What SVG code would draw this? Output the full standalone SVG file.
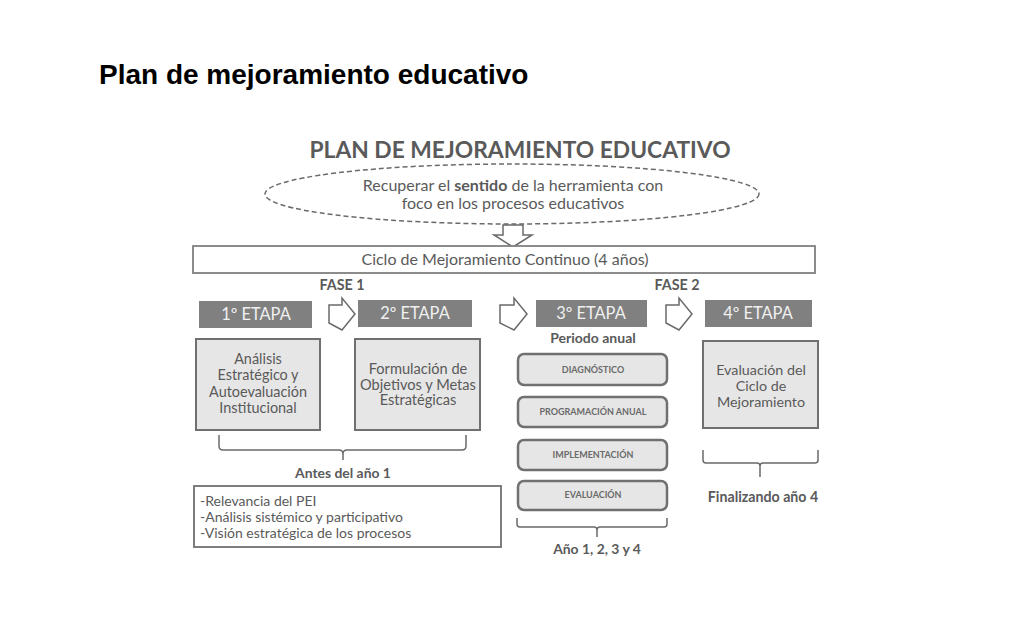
<svg xmlns="http://www.w3.org/2000/svg" width="1024" height="640" viewBox="0 0 1024 640">
<style>
.t{font-family:Lato,"Open Sans",sans-serif;fill:#5a5a5a}
.b{font-weight:bold}
.etapa rect{fill:#808080}
.etapa text{font-family:Lato,"Open Sans",sans-serif;fill:#f0f0f0;font-size:16.4px;text-anchor:middle}
.box{fill:#e6e6e6;stroke:#707070;stroke-width:2}
.rbox{fill:#e6e6e6;stroke:#707070;stroke-width:2.5}
.small{font-size:9px;font-weight:bold;text-anchor:middle;fill:#6a6a6a}
.hollow{fill:#fff;stroke:#6a6a6a;stroke-width:1.5;stroke-linejoin:miter}
.brace{fill:none;stroke:#6a6a6a;stroke-width:1.5}
.mid{text-anchor:middle}
</style>
<rect width="1024" height="640" fill="#fff"/>
<text x="99" y="84" font-family="Liberation Sans,Arial,sans-serif" font-size="28" font-weight="bold" fill="#000">Plan de mejoramiento educativo</text>
<g id="titulo">
<text class="t b mid" x="520" y="158" font-size="22.8">PLAN DE MEJORAMIENTO EDUCATIVO</text>
</g>
<g id="proposito">
<ellipse cx="512" cy="194" rx="247" ry="30" fill="#fff" stroke="#6a6a6a" stroke-width="1.5" stroke-dasharray="5,3"/>
<text class="t mid" x="513" y="191" font-size="16">Recuperar el <tspan font-weight="bold">sentido</tspan> de la herramienta con</text>
<text class="t mid" x="513" y="209" font-size="16">foco en los procesos educativos</text>
</g>
<g id="conectores">
<polygon class="hollow" points="503,225 523,225 523,235 532,235 513,247 494,235 503,235"/>
<polygon class="hollow" points="329,305 342,305 342,298 355,314 342,330 329,323"/>
<polygon class="hollow" points="500,305 514,305 514,298 527,314 514,330 500,323"/>
<polygon class="hollow" points="666,305 679,305 679,298 692,314 679,330 666,323"/>
<path class="brace" d="M219,435 v11 q0,4 4,4 h116 q4,0 4,4 v6 M343,454 q0,-4 4,-4 h115 q4,0 4,-4 v-11"/>
<path class="brace" d="M517,518 v6 q0,3 3,3 h74 q3,0 3,3 v7 M597,530 q0,-3 3,-3 h64 q3,0 3,-3 v-6"/>
<path class="brace" d="M703,450 v10 q0,3 3,3 h51 q3,0 3,3 v11 M760,466 q0,-3 3,-3 h52 q3,0 3,-3 v-10"/>
</g>
<g id="ciclo">
<rect x="193" y="246" width="622" height="27" fill="#fff" stroke="#808080" stroke-width="1.8"/>
<text class="t mid" x="505" y="265" font-size="16">Ciclo de Mejoramiento Continuo (4 años)</text>
</g>
<g id="fases">
<text class="t b mid" x="342" y="290" font-size="14.3">FASE 1</text>
<text class="t b mid" x="677" y="290" font-size="14.3">FASE 2</text>
</g>
<g id="etapa1" class="etapa"><rect x="199" y="301" width="113" height="27"/><text x="256" y="320">1º ETAPA</text></g>
<g id="etapa2" class="etapa"><rect x="358" y="300" width="114" height="27"/><text x="415" y="319">2º ETAPA</text></g>
<g id="etapa3" class="etapa"><rect x="536" y="300" width="111" height="27"/><text x="591" y="319">3º ETAPA</text></g>
<g id="etapa4" class="etapa"><rect x="705" y="300" width="107" height="27"/><text x="758" y="319">4º ETAPA</text></g>
<g id="caja1">
<rect class="box" x="196" y="339" width="124" height="91"/>
<text class="t mid" x="258" y="364" font-size="14.4">Análisis</text>
<text class="t mid" x="258" y="380" font-size="14.4">Estratégico y</text>
<text class="t mid" x="258" y="397" font-size="14.4">Autoevaluación</text>
<text class="t mid" x="258" y="413" font-size="14.4">Institucional</text>
</g>
<g id="caja2">
<rect class="box" x="355" y="339" width="125" height="91"/>
<text class="t mid" x="418" y="374" font-size="14.6">Formulación de</text>
<text class="t mid" x="418" y="390" font-size="14.6">Objetivos y Metas</text>
<text class="t mid" x="418" y="405" font-size="14.6">Estratégicas</text>
</g>
<g id="caja4">
<rect class="box" x="703" y="341" width="115" height="87"/>
<text class="t mid" x="761" y="375" font-size="14.3">Evaluación del</text>
<text class="t mid" x="761" y="391" font-size="14.3">Ciclo de</text>
<text class="t mid" x="761" y="407" font-size="14.3">Mejoramiento</text>
</g>
<g id="periodo">
<text class="t b mid" x="593" y="343" font-size="14">Periodo anual</text>
</g>
<g id="diagnostico"><rect class="rbox" x="518" y="354" width="149" height="31" rx="6"/><text class="t small" x="593" y="373">DIAGNÓSTICO</text></g>
<g id="programacion"><rect class="rbox" x="518" y="397" width="149" height="30" rx="6"/><text class="t small" x="593" y="415">PROGRAMACIÓN ANUAL</text></g>
<g id="implementacion"><rect class="rbox" x="518" y="440" width="149" height="30" rx="6"/><text class="t small" x="593" y="458">IMPLEMENTACIÓN</text></g>
<g id="evaluacion"><rect class="rbox" x="518" y="481" width="149" height="29" rx="6"/><text class="t small" x="593" y="498">EVALUACIÓN</text></g>
<g id="etiquetas">
<text class="t b mid" x="343" y="478" font-size="13.9">Antes del año 1</text>
<text class="t b mid" x="597" y="554" font-size="13.9">Año 1, 2, 3 y 4</text>
<text class="t b mid" x="763" y="502" font-size="14.2">Finalizando año 4</text>
</g>
<g id="criterios">
<rect x="194" y="486" width="307" height="61" fill="#fff" stroke="#707070" stroke-width="1.8"/>
<text class="t" x="200" y="506" font-size="14">-Relevancia del PEI</text>
<text class="t" x="200" y="522" font-size="14">-Análisis sistémico y participativo</text>
<text class="t" x="200" y="538" font-size="14">-Visión estratégica de los procesos</text>
</g>
</svg>
